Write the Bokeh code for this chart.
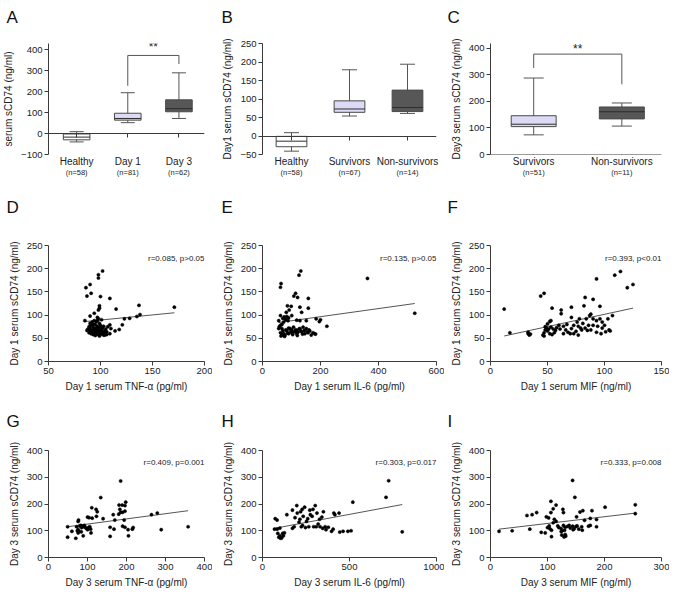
from bokeh.plotting import figure
from bokeh.layouts import gridplot
from bokeh.models import (Range1d, FixedTicker, LinearAxis, Label, Whisker,
                          TeeHead, ColumnDataSource)
from bokeh.embed import file_html
from bokeh.resources import INLINE

FONT = "Liberation Sans"
AXC = "#3a3a3a"
TXT = "#222222"

# ---------------- box-plot data ----------------
A_groups = ["Healthy", "Day 1", "Day 3"]
A_n = ["(n=58)", "(n=81)", "(n=62)"]
A_low = [-40, 52, 72]
A_q1 = [-30, 64, 104]
A_med = [-17, 72, 119]
A_q3 = [-2, 97, 161]
A_high = [9, 195, 290]
A_brk_y = [228, 373, 373, 332]

B_groups = ["Healthy", "Survivors", "Non-survivors"]
B_n = ["(n=58)", "(n=67)", "(n=14)"]
B_low = [-41, 54, 61]
B_q1 = [-29, 64, 66]
B_med = [-14, 73, 77]
B_q3 = [-1, 95, 124]
B_high = [9, 179, 194]

C_groups = ["Survivors", "Non-survivors"]
C_n = ["(n=51)", "(n=11)"]
C_low = [74, 107]
C_q1 = [105, 134]
C_med = [114, 161]
C_q3 = [146, 179]
C_high = [288, 194]
C_brk_y = [326, 378, 378, 264]

# ---------------- scatter data ----------------
D_pts = [(102,195),(98,187),(98,180),(90,166),(86,159),(91,147),(87,141),(100,140),(109,136),(99,120),
         (99,115),(115,113),(137,121),(171,117),(98,111),(138,101),(135,97),(128,93),(123,92),(90,98),
         (94,104),(97,95),(85,88),(101,90),(109,79),(121,79),(110,71),(118,69),(114,66),(109,60),(104,57),
         (88,70),(89,75),(90,66),(90,72),(91,60),(91,78),(92,68),(92,64),(93,74),(93,58),
         (94,70),(94,62),(95,66),(95,80),(95,56),(96,72),(96,60),(97,68),(97,76),(97,63),
         (98,58),(98,71),(99,66),(99,82),(99,55),(100,62),(100,74),(101,68),(101,59),(102,72),
         (102,64),(103,57),(103,76),(104,66),(104,61),(105,70),(106,64),(106,58),(89,62),(92,85),
         (94,88),(90,82),(96,86),(98,92),(87,67),(100,78),(105,62),(93,80),(97,88),(107,75)]
D_fit_x = [85, 171]
D_fit_y = [86, 105]

E_pts = [(132,195),(126,186),(64,168),(62,160),(114,147),(108,141),(121,138),(158,136),(362,179),(525,104),
         (129,117),(158,115),(86,120),(99,119),(92,111),(82,106),(135,106),(200,90),(196,86),(222,76),(185,92),
         (56,88),(62,99),(67,80),(73,85),(78,92),(84,97),(90,94),(101,99),(118,89),(129,88),(151,88),
         (75,96),(80,90),(88,88),(70,93),
         (56,71),(58,75),(62,62),(62,78),(64,55),(67,57),(67,71),(70,66),(73,60),(76,54),(78,57),(80,68),
         (84,67),(86,62),(90,60),(90,72),(95,71),(98,65),(101,62),(101,68),(104,58),(107,74),(110,64),
         (114,68),(118,60),(118,67),(122,63),(126,70),(129,71),(132,66),(135,64),(138,59),(140,74),
         (144,67),(146,60),(151,71),(154,64),(157,62),(160,68),(163,66),(168,57),(174,62),(180,60),
         (183,59),(120,56)]
E_fit_x = [56, 525]
E_fit_y = [84, 125]

F_pts = [(12,113),(17,62),(33,60),(34,57),(33,63),(35,59),(44,141),(47,147),(54,115),(52,86),(53,88),
         (50,81),(62,111),(62,103),(71,117),(93,178),(83,138),(82,120),(90,134),(96,119),(109,186),
         (114,194),(120,159),(125,166),
         (60,78),(64,76),(67,80),(71,95),(76,85),(78,92),(81,82),(84,92),(87,99),(88,102),(90,92),
         (93,88),(96,92),(98,85),(103,92),(107,99),(86,78),(90,78),(94,76),(98,72),(100,78),(104,68),
         (64,60),(70,60),(73,60),(77,57),(80,68),(83,72),(85,67),(88,68),(93,63),(97,60),(101,64),
         (105,66),(71,71),(73,78),(77,76),(79,72),(57,67),(46,57),(47,62),(48,68),(49,72),(50,66),
         (51,70),(52,60),(53,74),(55,70),(56,62),(47,55),(48,75),(54,58),(58,73),(66,68),(68,63),
         (75,65),(61,70)]
F_fit_x = [12, 125]
F_fit_y = [55, 115]

G_pts = [(49,115),(49,76),(60,98),(70,72),(72,115),(76,135),(77,140),(76,104),(76,92),(79,98),
         (83,120),(87,117),(90,115),(89,81),(97,109),(100,151),(104,149),(106,115),(108,106),(109,92),
         (104,113),(111,186),(112,147),(122,180),(125,171),(123,154),(134,224),(140,145),(158,113),
         (158,79),(166,160),(168,106),(170,140),(180,162),(181,196),(183,180),(185,169),(185,286),
         (189,196),(190,169),(190,117),(194,140),(196,113),(196,173),(198,207),(204,104),(205,81),
         (215,106),(217,112),(264,160),(279,166),(289,104),(358,115),(196,194),
         (80,118),(85,112),(95,112),(100,104),(102,110),(74,100),(92,120),(84,96)]
G_fit_x = [49, 358]
G_fit_y = [115, 175]

H_pts = [(73,145),(84,140),(69,106),(84,106),(88,90),(94,76),(101,81),(103,72),(110,73),(116,90),
         (120,81),(126,92),(140,160),(172,177),(172,109),(182,115),(187,149),(197,194),(200,166),
         (210,132),(215,143),(219,171),(223,115),(228,180),(234,154),(242,188),(247,112),(253,135),
         (266,115),(272,177),(275,160),(285,154),(294,115),(303,194),(309,115),(313,166),(328,143),
         (331,115),(341,151),(346,109),(350,171),(360,115),(365,104),(378,113),(397,98),(406,106),
         (410,166),(416,160),(440,166),(444,95),(463,98),(491,98),(519,207),(509,100),(710,225),
         (725,287),(803,96),(100,110),(230,120),(260,145),(320,125),(290,180)]
H_fit_x = [69, 803]
H_fit_y = [109, 198]

I_pts = [(15,98),(38,100),(64,157),(73,160),(81,168),(69,106),(89,94),(96,92),(98,152),(102,148),
         (106,168),(106,210),(103,118),(104,108),(107,102),(107,78),(110,182),(112,143),(115,135),
         (115,196),(118,118),(124,108),(124,97),(125,84),(127,180),(128,168),(128,120),(129,77),
         (130,102),(131,86),(131,113),(138,120),(144,288),(144,117),(147,108),(148,225),(150,116),
         (151,152),(152,118),(155,106),(157,170),(161,102),(162,175),(165,139),(172,117),(175,146),
         (175,120),(178,175),(186,142),(186,115),(201,188),(254,197),(254,164),
         (120,112),(135,116),(140,110),(126,100),(132,80),(100,112),(110,130),(145,104),(160,115)]
I_fit_x = [15, 254]
I_fit_y = [106, 166]

# ---------------- layout constants ----------------
COLW = [212, 232, 225]
ROWH = [190, 204, 196]
LEFTB = [42, 50, 46]
TOPB = [40, 55, 56]
BOTB = [36, 33, 30]
TITLE_LH = [0.62, 1.25, 0.75]
TITLE_OFF = [-42, -41, -43]
LIGHT = "#dcdaf5"
DARK = "#575757"


def style_axis(ax, size="9.5px"):
    ax.axis_line_color = AXC
    ax.major_tick_line_color = AXC
    ax.minor_tick_line_color = None
    ax.major_tick_out = 4
    ax.major_tick_in = 0
    ax.major_label_text_font = FONT
    ax.major_label_text_font_size = size
    ax.major_label_text_color = TXT
    ax.axis_label_text_font = FONT
    ax.axis_label_text_font_size = "10px"
    ax.axis_label_text_font_style = "normal"
    ax.axis_label_text_color = TXT
    ax.axis_label_standoff = 4
    ax.major_label_standoff = 2


def base_fig(col, row, letter, xr, yr):
    p = figure(width=COLW[col], height=ROWH[row], x_range=Range1d(*xr), y_range=Range1d(*yr),
               output_backend="svg", toolbar_location=None,
               min_border_left=LEFTB[col], min_border_right=8,
               min_border_top=TOPB[row], min_border_bottom=BOTB[row])
    p.title.text = letter + "\n\u00a0"
    p.title.text_font = FONT
    p.title.text_font_size = "17px"
    p.title.text_font_style = "normal"
    p.title.text_line_height = TITLE_LH[row]
    p.title.text_color = "#111111"
    p.title.align = "left"
    p.title.offset = TITLE_OFF[col]
    p.grid.visible = False
    p.outline_line_color = None
    for ax in p.axis:
        style_axis(ax)
    return p


def box_panel(col, letter, groups, ns, low, q1, med, q3, high, fills, yr, ytop, ystep, ylabel,
              xr, bw, cap, brk_x=None, brk_y=None, star_y=None):
    p = base_fig(col, 0, letter, xr, (yr[0], ytop))
    pos = list(range(1, len(groups) + 1))
    src = ColumnDataSource(dict(x=pos, lo=low, hi=high, q1=q1, q3=q3, med=med, fill=fills,
                                x0=[v - bw / 2 for v in pos], x1=[v + bw / 2 for v in pos]))
    p.add_layout(Whisker(source=src, base="x", upper="hi", lower="lo", dimension="height",
                         line_color="#555555", line_width=1, level="underlay",
                         upper_head=TeeHead(size=cap, line_color="#555555", line_width=1),
                         lower_head=TeeHead(size=cap, line_color="#555555", line_width=1)))
    p.vbar(x="x", width=bw, bottom="q1", top="q3", fill_color="fill", line_color="#4a4a4a",
           line_width=1, source=src)
    p.segment(x0="x0", y0="med", x1="x1", y1="med", line_color="#2e2e2e", line_width=1, source=src)
    if brk_x is not None:
        p.line(brk_x, brk_y, line_color="#555555", line_width=1)
        p.add_layout(Label(x=sum(brk_x) / len(brk_x), y=star_y, text="**", text_align="center",
                           text_baseline="middle", text_font=FONT, text_font_size="12px",
                           text_color=TXT))
    p.yaxis.ticker = FixedTicker(ticks=list(range(yr[0], yr[1] + 1, ystep)))
    p.yaxis.axis_label = ylabel
    # category names
    xa = p.xaxis[0]
    xa.ticker = FixedTicker(ticks=pos)
    xa.major_label_overrides = {v: g for v, g in zip(pos, groups)}
    xa.axis_line_color = None
    xa.major_tick_line_color = None
    xa.major_tick_out = 0
    xa.major_label_standoff = 1
    xa.major_label_text_font_size = "10px"
    # n labels
    na = LinearAxis(ticker=FixedTicker(ticks=pos), major_label_overrides={v: n for v, n in zip(pos, ns)})
    style_axis(na, "7.5px")
    na.axis_line_color = None
    na.major_tick_line_color = None
    na.major_tick_out = 0
    na.major_label_standoff = -2
    p.add_layout(na, "below")
    # zero line with ticks
    za = LinearAxis(ticker=FixedTicker(ticks=pos), fixed_location=0,
                    major_label_overrides={v: "" for v in pos})
    style_axis(za, "1px")
    za.major_label_standoff = 0
    p.add_layout(za, "below")
    return p


def scatter_panel(col, row, letter, pts, fx, fy, xr, xstep, yr, ystep, xlabel, ylabel, stat):
    p = base_fig(col, row, letter, xr, yr)
    xs = [a for a, b in pts]
    ys = [b for a, b in pts]
    p.line(fx, fy, line_color="#555555", line_width=1)
    p.scatter(xs, ys, size=3.2, fill_color="black", line_color="black", line_width=0.5)
    p.xaxis.ticker = FixedTicker(ticks=list(range(xr[0], xr[1] + 1, xstep)))
    p.yaxis.ticker = FixedTicker(ticks=list(range(yr[0], yr[1] + 1, ystep)))
    p.xaxis.axis_label = xlabel
    p.yaxis.axis_label = ylabel
    p.add_layout(Label(x=xr[1], y=yr[1] * 0.89, text=stat, text_align="right",
                       text_baseline="middle", text_font=FONT, text_font_size="8px",
                       text_color=TXT, x_offset=0))
    return p


pA = box_panel(0, "A", A_groups, A_n, A_low, A_q1, A_med, A_q3, A_high,
               ["white", LIGHT, DARK], (-100, 400), 430, 100, "serum sCD74 (ng/ml)",
               (0.45, 3.5), 0.52, 14, brk_x=[2, 2, 3, 3], brk_y=A_brk_y, star_y=412)
pB = box_panel(1, "B", B_groups, B_n, B_low, B_q1, B_med, B_q3, B_high,
               ["white", LIGHT, DARK], (-50, 250), 250, 50, "Day1 serum sCD74 (ng/ml)",
               (0.5, 3.5), 0.53, 15)
pC = box_panel(2, "C", C_groups, C_n, C_low, C_q1, C_med, C_q3, C_high,
               [LIGHT, DARK], (0, 400), 418, 100, "Day3 serum sCD74 (ng/ml)",
               (0.51, 2.45), 0.51, 20, brk_x=[1, 1, 2, 2], brk_y=C_brk_y, star_y=398)

pD = scatter_panel(0, 1, "D", D_pts, D_fit_x, D_fit_y, (50, 200), 50, (0, 250), 50,
                   "Day 1 serum TNF-\u03b1 (pg/ml)", "Day 1 serum sCD74 (ng/ml)", "r=0.085, p>0.05")
pE = scatter_panel(1, 1, "E", E_pts, E_fit_x, E_fit_y, (0, 600), 200, (0, 250), 50,
                   "Day 1 serum IL-6 (pg/ml)", "Day 1 serum sCD74 (ng/ml)", "r=0.135, p>0.05")
pF = scatter_panel(2, 1, "F", F_pts, F_fit_x, F_fit_y, (0, 150), 50, (0, 250), 50,
                   "Day 1 serum MIF (ng/ml)", "Day 1 serum sCD74 (ng/ml)", "r=0.393, p<0.01")
pG = scatter_panel(0, 2, "G", G_pts, G_fit_x, G_fit_y, (0, 400), 100, (0, 400), 100,
                   "Day 3 serum TNF-\u03b1 (pg/ml)", "Day 3 serum sCD74 (ng/ml)", "r=0.409, p=0.001")
pH = scatter_panel(1, 2, "H", H_pts, H_fit_x, H_fit_y, (0, 1000), 500, (0, 400), 100,
                   "Day 3 serum IL-6 (pg/ml)", "Day 3 serum sCD74 (ng/ml)", "r=0.303, p=0.017")
pI = scatter_panel(2, 2, "I", I_pts, I_fit_x, I_fit_y, (0, 300), 100, (0, 400), 100,
                   "Day 3 serum MIF (ng/ml)", "Day 3 serum sCD74 (ng/ml)", "r=0.333, p=0.008")

grid = gridplot([[pA, pB, pC], [pD, pE, pF], [pG, pH, pI]], toolbar_location=None)

open("out.html", "w").write(file_html(grid, INLINE))
